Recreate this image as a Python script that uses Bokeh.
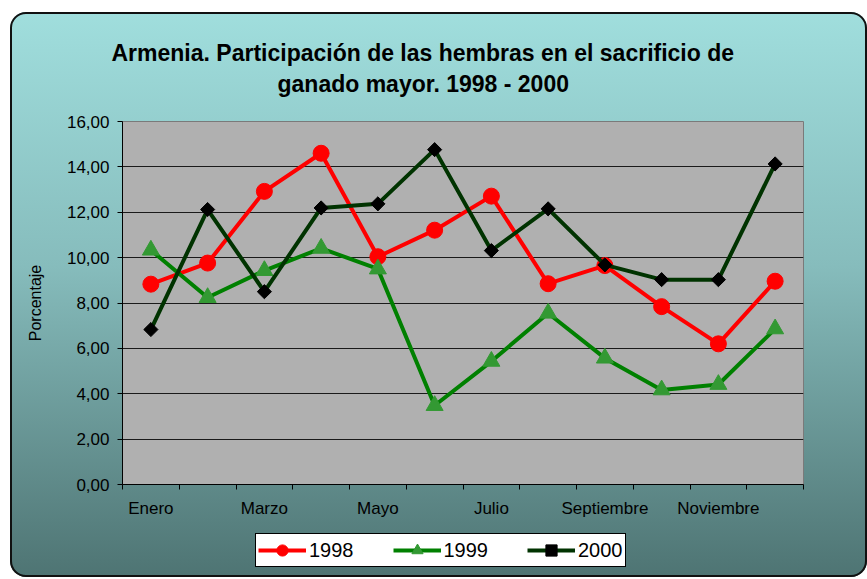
import numpy as np
from bokeh.plotting import figure
from bokeh.layouts import column
from bokeh.models import Range1d, FixedTicker, CustomJSTickFormatter, Legend, LegendItem, Title
from bokeh.embed import file_html
from bokeh.resources import INLINE

months = ["Enero", "Febrero", "Marzo", "Abril", "Mayo", "Junio", "Julio",
          "Agosto", "Septiembre", "Octubre", "Noviembre", "Diciembre"]
y1998 = [8.83, 9.76, 12.92, 14.60, 10.04, 11.21, 12.71, 8.85, 9.65, 7.84, 6.20, 8.96]
y1999 = [10.33, 8.24, 9.43, 10.41, 9.50, 3.48, 5.43, 7.55, 5.57, 4.17, 4.41, 6.86]
y2000 = [6.83, 12.12, 8.50, 12.19, 12.37, 14.76, 10.31, 12.15, 9.68, 9.03, 9.03, 14.13]
series_names = ["1998", "1999", "2000"]
y_ticks = [0, 2, 4, 6, 8, 10, 12, 14, 16]
title_lines = ["Armenia.  Participación de las hembras en el sacrificio de",
               "ganado mayor.  1998 - 2000"]

xs = [i + 1 for i in range(len(months))]
series = [y1998, y1999, y2000]
FONT = "Liberation Sans"

styles = [
    dict(line_color="#ff0000", marker="circle", size=16, fill="#ff0000"),
    dict(line_color="#008000", marker="triangle", size=17, fill="#339933"),
    dict(line_color="#003300", marker="square", size=10, fill="#000000"),
]

p = figure(frame_width=681, frame_height=363, x_range=Range1d(0.5, len(months) + 0.5),
           y_range=Range1d(0, 16), output_backend="svg", toolbar_location=None,
           title=None,
           min_border_left=112, min_border_right=64, min_border_top=109,
           min_border_bottom=36)
p.border_fill_color = None
p.background_fill_color = "#b0b0b0"
p.outline_line_color = "#7a7a7a"

# axes
p.xgrid.grid_line_color = None
p.ygrid.grid_line_color = "#1a1a1a"
p.ygrid.grid_line_width = 1
p.ygrid.ticker = FixedTicker(ticks=y_ticks)

p.yaxis.ticker = FixedTicker(ticks=y_ticks)
p.yaxis.formatter = CustomJSTickFormatter(code="return tick.toFixed(2).replace('.', ',');")
p.yaxis.major_tick_out = 5
p.yaxis.major_tick_in = 0
p.yaxis.minor_tick_line_color = None
p.yaxis.major_label_standoff = 8
p.yaxis.major_label_text_font = FONT
p.yaxis.major_label_text_font_size = "17px"
p.yaxis.major_label_text_color = "#000000"
p.yaxis.axis_label = "Porcentaje"
p.yaxis.axis_label_text_font = FONT
p.yaxis.axis_label_text_font_size = "16px"
p.yaxis.axis_label_text_font_style = "normal"
p.yaxis.axis_label_text_color = "#000000"
p.yaxis.axis_label_standoff = 20
p.yaxis.axis_line_color = "#000000"

label_pos = xs[::2]
boundaries = [x - 0.5 for x in xs] + [xs[-1] + 0.5]
p.xaxis.ticker = FixedTicker(ticks=label_pos, minor_ticks=boundaries)
p.xaxis.major_label_overrides = {x: months[x - 1] for x in label_pos}
p.xaxis.major_tick_out = 0
p.xaxis.major_tick_in = 0
p.xaxis.minor_tick_out = 5
p.xaxis.minor_tick_in = 0
p.xaxis.minor_tick_line_color = "#000000"
p.xaxis.major_label_standoff = 9
p.xaxis.major_label_text_font = FONT
p.xaxis.major_label_text_font_size = "17px"
p.xaxis.major_label_text_color = "#000000"
p.xaxis.axis_line_color = "#000000"

# series
for ys, st in zip(series, styles):
    p.line(xs, ys, line_color=st["line_color"], line_width=4)
    p.scatter(xs, ys, marker=st["marker"], size=st["size"],
              angle=np.pi / 4 if st["marker"] == "square" else 0,
              fill_color=st["fill"], line_color=st["fill"])

# title: spacer nearest the frame, then line 2, then line 1
p.add_layout(Title(text=" ", text_font_size="1px", standoff=20), "above")
for line, off in [(title_lines[1], 155), (title_lines[0], -11)]:
    p.add_layout(Title(text=line, align="left", offset=off, standoff=3,
                       text_font=FONT, text_font_size="23px", text_font_style="bold",
                       text_color="#000000"), "above")

# legend strip: a second figure whose copies of the series lie outside its
# visible range, so only the legend (with the same styles) shows
q = figure(width=857, height=57, x_range=Range1d(0.5, len(months) + 0.5),
           y_range=Range1d(-20, -19),
           output_backend="svg", toolbar_location=None, title=None,
           min_border=0)
q.axis.visible = False
q.grid.visible = False
q.outline_line_color = None
q.background_fill_color = None
q.border_fill_color = None
items = []
for name, ys, st in zip(series_names, series, styles):
    rl = q.line(xs, ys, line_color=st["line_color"], line_width=4)
    rm = q.scatter(xs, ys, marker=st["marker"], size=st["size"],
                   angle=np.pi / 4 if st["marker"] == "square" else 0,
                   fill_color=st["fill"], line_color=st["fill"])
    items.append(LegendItem(label=name, renderers=[rl, rm]))
legend = Legend(items=items, orientation="horizontal", location=(133, 10))
legend.glyph_width = 48
legend.glyph_height = 28
legend.padding = 2
legend.spacing = 39
legend.label_standoff = 3
legend.margin = 0
legend.label_text_font = FONT
legend.label_text_font_size = "20px"
legend.label_text_color = "#000000"
legend.label_height = 28
legend.border_line_color = "#000000"
legend.border_line_alpha = 1
legend.border_line_width = 1
legend.background_fill_color = "#ffffff"
legend.background_fill_alpha = 1
q.add_layout(legend)

layout = column(p, q, spacing=0)
layout.margin = (12, 0, 0, 10)
layout.styles = {
    "background": "linear-gradient(to bottom, #a0dedd 0%, #86bcbc 45%, #4e7473 100%)",
    "border-radius": "16px",
    "box-shadow": "inset 0 0 0 2px #111",
}

open("out.html", "w").write(file_html(layout, INLINE))
